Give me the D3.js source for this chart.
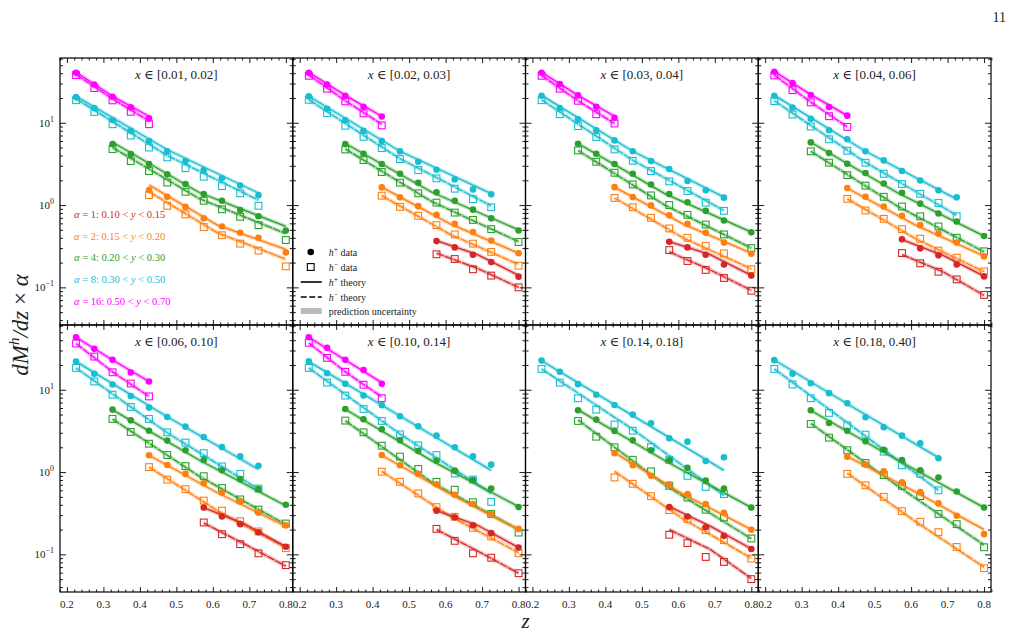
<!DOCTYPE html>
<html>
<head>
<meta charset="utf-8">
<script src="https://cdn.jsdelivr.net/npm/d3@7"></script>
<style>
  body { margin: 0; background: #fff; }
  svg { display: block; }
  text { font-family: 'Liberation Serif', 'DejaVu Serif', serif; fill: #222; }
</style>
</head>
<body>
<div id="chart"></div>
<script>
// x bins (one panel each) and z bin centres
const xBins = ['[0.01, 0.02]', '[0.02, 0.03]', '[0.03, 0.04]', '[0.04, 0.06]',
  '[0.06, 0.10]', '[0.10, 0.14]', '[0.14, 0.18]', '[0.18, 0.40]']
const zBins = [0.225, 0.275, 0.325, 0.375, 0.425, 0.475, 0.525, 0.575, 0.625, 0.675, 0.725, 0.8]
const xTickLabels = ['0.2', '0.3', '0.4', '0.5', '0.6', '0.7', '0.8']
const yTickValues = [0.1, 1, 10]
const yTickExp = ['−1', '0', '1']

// y-bins, scale factor alpha, first z bin of each series
const alphas = [16, 8, 4, 2, 1]
const yRanges = [['0.50', '0.70'], ['0.30', '0.50'], ['0.20', '0.30'], ['0.15', '0.20'], ['0.10', '0.15']]
const seriesZ0 = [0.225, 0.225, 0.325, 0.425, 0.575]
const seriesColors = ['#ff00ff', '#17becf', '#2ca02c', '#ff7f0e', '#d62728']

// h+ / h- data, one array per panel (null = not measured)
const a16Plus = [
  [40.5, 29.2, 20.7, 15.4, 11.3], [40.5, 29.2, 21.3, 15.6, 11.9], [40.5, 29.5, 21.5, 15.6, 11.5],
  [41.6, 30.3, 21.7, 15.5, 12.2], [43.5, 31.4, 23.1, 16.2, 12.6], [43.5, 32.3, 23.1, 17.4, 11.8], null, null]
const a16Minus = [
  [37.9, 26.4, 18.7, 13.6, 9.6], [37.2, 25.9, 18.2, 13.0, 9.3], [37.2, 25.9, 18.5, 12.7, 9.8],
  [37.6, 24.9, 17.7, 12.0, 8.9], [36.5, 25.3, 16.3, 11.9, 8.3], [37.2, 24.4, 16.5, 11.5, 7.9], null, null]
const a8Plus = [
  [20.5, 15.1, 10.8, 8.0, 6.0, 4.5, 3.42, 2.66, 2.11, 1.73, 1.32],
  [20.9, 14.8, 10.7, 8.0, 6.0, 4.49, 3.36, 2.69, 2.05, 1.55, 1.35],
  [21.3, 15.1, 11.0, 8.1, 6.1, 4.5, 3.42, 2.74, 1.96, 1.51, 1.23],
  [21.3, 15.3, 11.2, 8.1, 6.3, 4.5, 3.49, 2.59, 1.99, 1.51, 1.24],
  [22.0, 15.6, 11.6, 8.4, 6.07, 4.67, 3.56, 2.67, 2.01, 1.55, 1.19],
  [22.2, 15.9, 11.8, 8.5, 6.5, 4.76, 3.59, 2.77, 2.0, 1.55, 1.23],
  [22.6, 16.5, 11.7, 8.7, 6.54, 4.99, 3.91, 2.57, 2.34, 1.36, 1.51],
  [22.9, 15.7, 12.0, 9.1, 6.85, 4.63, 3.50, 2.77, 2.23, 1.47]]
const a8Minus = [
  [18.8, 13.5, 9.6, 7.0, 5.0, 3.8, 2.81, 2.21, 1.70, 1.39, 0.98],
  [19.0, 13.1, 9.2, 6.76, 4.92, 3.62, 2.66, 2.11, 1.58, 1.18, 0.94],
  [18.8, 12.7, 9.1, 6.7, 4.74, 3.45, 2.59, 1.94, 1.48, 1.07, 0.85],
  [18.3, 12.6, 9.0, 6.3, 4.57, 3.27, 2.40, 1.80, 1.37, 1.06, 0.73],
  [18.4, 12.6, 8.7, 6.18, 4.42, 3.04, 2.28, 1.70, 1.17, 0.95, 0.63],
  [18.4, 12.2, 8.5, 5.84, 4.18, 2.87, 2.11, 1.61, 0.96, 0.81, 0.435],
  [17.9, 12.2, 7.88, 5.74, 3.77, 3.18, 2.01, 1.41, 0.90, 0.66, 0.54],
  [17.9, 11.6, 7.88, 5.23, 3.70, 2.85, 1.77, 1.21, 0.95, 0.60]]
const a4Plus = [
  [5.5, 4.16, 3.15, 2.36, 1.80, 1.36, 1.13, 0.87, 0.73, 0.49],
  [5.5, 4.2, 3.15, 2.40, 1.87, 1.43, 1.13, 0.88, 0.69, 0.49],
  [5.56, 4.2, 3.15, 2.40, 1.78, 1.36, 1.08, 0.85, 0.65, 0.466],
  [5.77, 4.28, 3.18, 2.45, 1.83, 1.41, 1.04, 0.79, 0.63, 0.42],
  [5.74, 4.25, 3.18, 2.41, 1.84, 1.40, 1.05, 0.82, 0.62, 0.40],
  [5.84, 4.38, 3.31, 2.43, 1.80, 1.37, 1.04, 0.80, 0.63, 0.375],
  [5.63, 4.34, 3.16, 2.43, 1.84, 1.39, 1.13, 0.79, 0.63, 0.371],
  [5.63, 3.95, 3.18, 2.36, 1.87, 1.40, 1.05, 0.86, 0.58, 0.371]]
const a4Minus = [
  [4.79, 3.42, 2.59, 1.88, 1.45, 1.13, 0.89, 0.72, 0.57, 0.376],
  [4.74, 3.52, 2.52, 1.87, 1.39, 1.07, 0.81, 0.66, 0.51, 0.356],
  [4.61, 3.36, 2.47, 1.78, 1.31, 1.0, 0.76, 0.58, 0.44, 0.30],
  [4.49, 3.27, 2.31, 1.72, 1.26, 0.96, 0.73, 0.55, 0.40, 0.274],
  [4.42, 3.07, 2.21, 1.61, 1.18, 0.89, 0.64, 0.465, 0.35, 0.237],
  [4.22, 3.04, 2.09, 1.54, 1.09, 0.76, 0.61, 0.43, 0.31, 0.184],
  [4.18, 2.69, 2.0, 1.41, 1.02, 0.68, 0.49, 0.348, 0.28, 0.156],
  [3.84, 2.62, 1.84, 1.29, 0.92, 0.68, 0.51, 0.31, 0.233, 0.122]]
const a2Plus = [
  [1.52, 1.26, 0.95, 0.69, 0.55, 0.46, 0.40, 0.266],
  [1.64, 1.24, 0.97, 0.76, 0.59, 0.47, 0.37, 0.26],
  [1.65, 1.25, 0.99, 0.75, 0.59, 0.46, 0.35, 0.256],
  [1.61, 1.26, 0.96, 0.74, 0.57, 0.45, 0.35, 0.238],
  [1.60, 1.22, 0.95, 0.73, 0.56, 0.44, 0.32, 0.225],
  [1.61, 1.21, 0.95, 0.71, 0.53, 0.41, 0.31, 0.204],
  [1.69, 1.21, 0.90, 0.71, 0.54, 0.41, 0.32, 0.199],
  [1.54, 1.23, 1.02, 0.75, 0.57, 0.416, 0.294, 0.176]]
const a2Minus = [
  [1.32, 0.98, 0.77, 0.54, 0.43, 0.34, 0.28, 0.18],
  [1.30, 0.95, 0.74, 0.57, 0.44, 0.34, 0.27, 0.183],
  [1.22, 0.94, 0.70, 0.52, 0.40, 0.32, 0.259, 0.166],
  [1.19, 0.86, 0.68, 0.51, 0.39, 0.28, 0.229, 0.156],
  [1.15, 0.81, 0.62, 0.45, 0.34, 0.253, 0.19, 0.119],
  [1.01, 0.76, 0.55, 0.375, 0.286, 0.21, 0.165, 0.103],
  [0.86, 0.72, 0.51, 0.345, 0.268, 0.197, 0.149, 0.089],
  [0.95, 0.69, 0.50, 0.335, 0.249, 0.186, 0.123, 0.068]]
const a1Plus = [null,
  [0.365, 0.306, 0.249, 0.203, 0.135], [0.359, 0.306, 0.249, 0.19, 0.139],
  [0.383, 0.298, 0.245, 0.19, 0.136], [0.371, 0.289, 0.233, 0.186, 0.124],
  [0.34, 0.283, 0.226, 0.181, 0.121], [0.375, 0.289, 0.214, 0.168, 0.116], null]
const a1Minus = [null,
  [0.252, 0.221, 0.166, 0.139, 0.100], [0.284, 0.209, 0.163, 0.13, 0.091],
  [0.261, 0.196, 0.155, 0.125, 0.081], [0.244, 0.176, 0.133, 0.103, 0.074],
  [0.204, 0.146, 0.103, 0.091, 0.059], [0.173, 0.137, 0.093, 0.081, 0.050], null]

// theory curves: value at first, middle and last z of each series
const a16ThPlus = [[41, 21, 12.0], [41, 21.5, 12.0], [41, 21.5, 12.0], [42, 22, 12.2], [43.5, 23, 12.6], [43.5, 23, 12.2], null, null]
const a16ThMinus = [[38.5, 19.5, 10.5], [38, 18.5, 9.6], [37.5, 18.5, 9.8], [38, 17.8, 8.9], [36.5, 16.5, 8.3], [37, 16.5, 8.2], null, null]
const a8ThPlus = [[21, 4.7, 1.40], [21, 4.5, 1.38], [21.5, 4.5, 1.25], [21.5, 4.5, 1.18], [22, 4.7, 1.08], [22, 4.8, 1.05], [22.5, 4.85, 1.05], [23, 5.8, 1.5]]
const a8ThMinus = [[19.5, 4.0, 1.15], [19, 3.65, 0.98], [19, 3.5, 0.86], [18.5, 3.3, 0.75], [18.4, 3.0, 0.62], [18.4, 2.9, 0.55], [17.9, 3.3, 0.52], [17.9, 3.3, 0.6]]
const a4ThPlus = [[5.8, 1.42, 0.55], [5.6, 1.43, 0.50], [5.6, 1.38, 0.47], [5.8, 1.41, 0.42], [5.7, 1.40, 0.39], [5.8, 1.37, 0.38], [5.7, 1.38, 0.37], [5.6, 1.40, 0.37]]
const a4ThMinus = [[5.0, 1.2, 0.45], [4.8, 1.1, 0.36], [4.6, 1.0, 0.30], [4.5, 0.97, 0.27], [4.4, 0.89, 0.23], [4.2, 0.75, 0.2], [4.3, 0.7, 0.155], [3.9, 0.68, 0.13]]
const a2ThPlus = [[1.75, 0.57, 0.29], [1.65, 0.59, 0.26], [1.65, 0.59, 0.26], [1.6, 0.57, 0.24], [1.6, 0.56, 0.22], [1.6, 0.54, 0.2], [1.72, 0.54, 0.2], [1.55, 0.57, 0.2]]
const a2ThMinus = [[1.45, 0.46, 0.22], [1.3, 0.44, 0.19], [1.22, 0.40, 0.168], [1.19, 0.39, 0.155], [1.15, 0.34, 0.12], [1.02, 0.29, 0.105], [1.02, 0.27, 0.09], [0.97, 0.25, 0.07]]
const a1ThPlus = [null, [0.37, 0.25, 0.14], [0.36, 0.25, 0.14], [0.38, 0.245, 0.137], [0.37, 0.233, 0.124], [0.34, 0.226, 0.121], [0.38, 0.22, 0.117], null]
const a1ThMinus = [null, [0.26, 0.17, 0.10], [0.27, 0.163, 0.092], [0.25, 0.155, 0.08], [0.24, 0.133, 0.072], [0.20, 0.11, 0.059], [0.20, 0.115, 0.051], null]

const dataPlus = [a16Plus, a8Plus, a4Plus, a2Plus, a1Plus]
const dataMinus = [a16Minus, a8Minus, a4Minus, a2Minus, a1Minus]
const thPlus = [a16ThPlus, a8ThPlus, a4ThPlus, a2ThPlus, a1ThPlus]
const thMinus = [a16ThMinus, a8ThMinus, a4ThMinus, a2ThMinus, a1ThMinus]

const W = 1013
const H = 634
const margin = { top: 58, right: 22, bottom: 42, left: 60 }
const pw = (W - margin.left - margin.right) / 4
const ph = (H - margin.top - margin.bottom) / 2

const x = d3.scaleLinear().domain([0.181, 0.819]).range([0, pw])
const y = d3.scaleLog().domain([0.0349, 61.2]).range([ph, 0])

const svg = d3.select('#chart').append('svg')
  .attr('width', W)
  .attr('height', H)

const line = d3.line()
  .x(d => x(d[0]))
  .y(d => y(d[1]))

const xMajor = xTickLabels.map(Number)
const xMinor = d3.range(9, 42).map(i => i / 50).filter(v => !xMajor.some(m => Math.abs(m - v) < 1e-6))
const yMinor = y.ticks().filter(v => !yTickValues.some(m => Math.abs(m - v) < 1e-9))

const addTicks = (g) => {
  const tick = (axis, values, size, tx, ty) => {
    g.append('g')
      .attr('transform', `translate(${tx},${ty})`)
      .call(axis.tickValues(values).tickSize(size).tickFormat(''))
      .call(a => a.select('.domain').remove())
      .call(a => a.selectAll('line').attr('stroke', '#000').attr('stroke-width', 0.9))
  }
  tick(d3.axisBottom(x), xMajor, -5, 0, ph)
  tick(d3.axisBottom(x), xMinor, -2.5, 0, ph)
  tick(d3.axisTop(x), xMajor, -5, 0, 0)
  tick(d3.axisTop(x), xMinor, -2.5, 0, 0)
  tick(d3.axisLeft(y), yTickValues, -6, 0, 0)
  tick(d3.axisLeft(y), yMinor, -3, 0, 0)
  tick(d3.axisRight(y), yTickValues, -6, pw, 0)
  tick(d3.axisRight(y), yMinor, -3, pw, 0)
}

const drawSeries = (g, p, s) => {
  const hp = dataPlus[s][p]
  if (!hp) return
  const hm = dataMinus[s][p]
  const i0 = zBins.indexOf(seriesZ0[s])
  const zs = zBins.slice(i0, i0 + hp.length)
  const zNodes = [zs[0], (zs[0] + zs[zs.length - 1]) / 2, zs[zs.length - 1]]
  const color = seriesColors[s]
  const tp = zNodes.map((z, i) => [z, thPlus[s][p][i]])
  const tm = zNodes.map((z, i) => [z, thMinus[s][p][i]])

  // uncertainty band, then theory curves
  ;[tp, tm].forEach(t => {
    g.append('path').datum(t)
      .attr('d', line)
      .attr('fill', 'none')
      .attr('stroke', color)
      .attr('stroke-opacity', 0.3)
      .attr('stroke-width', 4)
  })
  g.append('path').datum(tp)
    .attr('d', line)
    .attr('fill', 'none')
    .attr('stroke', color)
    .attr('stroke-width', 1.3)
  g.append('path').datum(tm)
    .attr('d', line)
    .attr('fill', 'none')
    .attr('stroke', color)
    .attr('stroke-width', 1.3)
    .attr('stroke-dasharray', '8,1')

  g.selectAll(null)
    .data(hm.map((v, i) => [zs[i], v]))
    .enter().append('rect')
    .attr('x', d => x(d[0]) - 3.4)
    .attr('y', d => y(d[1]) - 3.4)
    .attr('width', 6.8)
    .attr('height', 6.8)
    .attr('fill', 'none')
    .attr('stroke', color)
    .attr('stroke-width', 1.1)

  g.selectAll(null)
    .data(hp.map((v, i) => [zs[i], v]))
    .enter().append('circle')
    .attr('cx', d => x(d[0]))
    .attr('cy', d => y(d[1]))
    .attr('r', 3.3)
    .attr('fill', color)
}

xBins.forEach((bin, p) => {
  const col = p % 4
  const row = Math.floor(p / 4)
  const g = svg.append('g')
    .attr('transform', `translate(${margin.left + col * pw},${margin.top + row * ph})`)

  for (let s = 0; s < alphas.length; s++) drawSeries(g, p, s)

  addTicks(g)
  g.append('rect')
    .attr('width', pw)
    .attr('height', ph)
    .attr('fill', 'none')
    .attr('stroke', '#000')
    .attr('stroke-width', 1.2)

  const title = g.append('text')
    .attr('x', pw / 2)
    .attr('y', 21)
    .attr('text-anchor', 'middle')
    .style('font-size', '13px')
  title.append('tspan').style('font-style', 'italic').text('x')
  title.append('tspan').text(` ∈ ${bin}`)

  if (row === 1) {
    g.selectAll(null).data(xTickLabels).enter().append('text')
      .attr('x', d => x(+d))
      .attr('y', ph + 16)
      .attr('text-anchor', 'middle')
      .style('font-size', '11px')
      .text(d => d)
  }
  if (col === 0) {
    yTickValues.forEach((v, i) => {
      const t = g.append('text')
        .attr('x', -6)
        .attr('y', y(v) + 4)
        .attr('text-anchor', 'end')
        .style('font-size', '11px')
      t.append('tspan').text('10')
      t.append('tspan').attr('dy', -5).style('font-size', '8px').text(yTickExp[i])
    })
  }
})

// alpha legend, first panel
const leg1 = svg.append('g').attr('transform', `translate(${margin.left + 14},${margin.top})`)
const legOrder = [4, 3, 2, 1, 0]
legOrder.forEach((s, i) => {
  const t = leg1.append('text')
    .attr('y', 160 + i * 21.7)
    .style('font-size', '10.5px')
    .style('fill', seriesColors[s])
  t.append('tspan').style('font-style', 'italic').text('α')
  t.append('tspan').text(` = ${alphas[s]}: ${yRanges[s][0]} < `)
  t.append('tspan').style('font-style', 'italic').text('y')
  t.append('tspan').text(` < ${yRanges[s][1]}`)
})

// marker legend, second panel
const leg2 = svg.append('g').attr('transform', `translate(${margin.left + pw},${margin.top})`)
const legRows = [194, 209, 224, 239, 253]
leg2.append('circle').attr('cx', 18).attr('cy', legRows[0]).attr('r', 3.3).attr('fill', '#000')
leg2.append('rect').attr('x', 14.6).attr('y', legRows[1] - 3.4).attr('width', 6.8).attr('height', 6.8)
  .attr('fill', 'none').attr('stroke', '#000').attr('stroke-width', 1.1)
leg2.append('line').attr('x1', 8).attr('x2', 29).attr('y1', legRows[2]).attr('y2', legRows[2])
  .attr('stroke', '#000').attr('stroke-width', 1.6)
leg2.append('line').attr('x1', 8).attr('x2', 29).attr('y1', legRows[3]).attr('y2', legRows[3])
  .attr('stroke', '#000').attr('stroke-width', 1.6).attr('stroke-dasharray', '6,2.5')
leg2.append('rect').attr('x', 8).attr('y', legRows[4] - 3).attr('width', 21).attr('height', 6)
  .attr('fill', '#bbb')
const legText = [['+', ' data'], ['−', ' data'], ['+', ' theory'], ['−', ' theory']]
legText.forEach((d, i) => {
  const t = leg2.append('text').attr('x', 36).attr('y', legRows[i] + 3.5).style('font-size', '10px')
  t.append('tspan').style('font-style', 'italic').text('h')
  t.append('tspan').attr('dy', -4).style('font-size', '7.5px').text(d[0])
  t.append('tspan').attr('dy', 4).text(d[1])
})
leg2.append('text').attr('x', 36).attr('y', legRows[4] + 3.5).style('font-size', '10px').text('prediction uncertainty')

// axis titles
const yl = svg.append('text')
  .attr('transform', `translate(28,${margin.top + ph}) rotate(-90)`)
  .attr('text-anchor', 'middle')
  .style('font-size', '23px')
yl.append('tspan').style('font-style', 'italic').text('dM')
yl.append('tspan').attr('dy', -9).style('font-size', '15px').style('font-style', 'italic').text('h')
yl.append('tspan').attr('dy', 9).style('font-style', 'italic').text('/dz')
yl.append('tspan').text(' × ')
yl.append('tspan').style('font-style', 'italic').text('α')

svg.append('text')
  .attr('x', margin.left + 2 * pw)
  .attr('y', 628)
  .attr('text-anchor', 'middle')
  .style('font-size', '21px')
  .style('font-style', 'italic')
  .text('z')

svg.append('text')
  .attr('x', 1006)
  .attr('y', 22)
  .attr('text-anchor', 'end')
  .style('font-size', '14px')
  .text('11')
</script>
</body>
</html>
